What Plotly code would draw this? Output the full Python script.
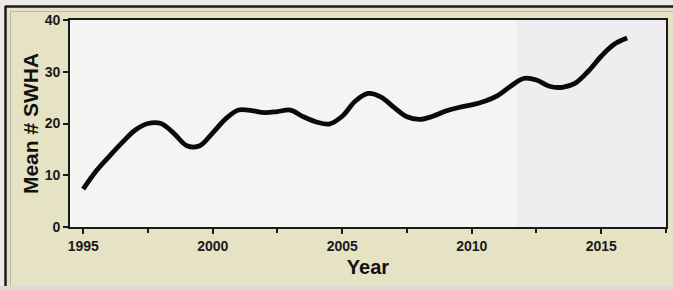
import plotly.graph_objects as go

# Values (half-year positions along the smoothed curve)
years = [1995.0, 1995.5, 1996.0, 1996.5, 1997.0, 1997.5, 1998.0, 1998.5, 1999.0, 1999.5,
         2000.0, 2000.5, 2001.0, 2001.5, 2002.0, 2002.5, 2003.0, 2003.5, 2004.0, 2004.5,
         2005.0, 2005.5, 2006.0, 2006.5, 2007.0, 2007.5, 2008.0, 2008.5, 2009.0, 2009.5,
         2010.0, 2010.5, 2011.0, 2011.5, 2012.0, 2012.5, 2013.0, 2013.5, 2014.0, 2014.5,
         2015.0, 2015.5, 2016.0]
mean_swha = [7.3, 10.8, 13.6, 16.3, 18.7, 20.0, 20.0, 18.1, 15.7, 15.7,
             18.2, 20.9, 22.6, 22.5, 22.1, 22.3, 22.6, 21.3, 20.3, 19.9,
             21.4, 24.3, 25.8, 25.1, 23.1, 21.3, 20.8, 21.4, 22.4, 23.1,
             23.6, 24.3, 25.4, 27.2, 28.7, 28.4, 27.2, 27.0, 27.8, 30.1,
             33.0, 35.3, 36.5]
x_ticks = [1995, 2000, 2005, 2010, 2015]
y_ticks = [0, 10, 20, 30, 40]

W, H = 673, 290
L, R, T, B = 70, 666, 20, 227  # plot area pixel box

def px(x):
    return (x - L) / (R - L)

def py(y):
    return (B - y) / (B - T)

fig = go.Figure()
fig.add_trace(go.Scatter(
    x=years, y=mean_swha, mode="lines",
    line=dict(color="#0a0a0a", width=4.8, shape="spline", smoothing=1.0),
    showlegend=False, hoverinfo="skip",
))

font_fam = "Arial, 'Liberation Sans', sans-serif"

shapes = [
    # slightly bluish right part of the plot area
    dict(type="rect", xref="paper", yref="paper", x0=px(517), x1=1, y0=0, y1=1,
         fillcolor="#eeeef0", line_width=0, layer="below"),
    # light strips at the very edges
    dict(type="rect", xref="paper", yref="paper", x0=px(0), x1=px(W), y0=py(0), y1=py(5),
         fillcolor="#ecebe8", line_width=0, layer="below"),
    dict(type="rect", xref="paper", yref="paper", x0=px(0), x1=px(4.5), y0=py(H), y1=py(0),
         fillcolor="#ecebe8", line_width=0, layer="below"),
    dict(type="rect", xref="paper", yref="paper", x0=px(0), x1=px(W), y0=py(H), y1=py(286),
         fillcolor="#dcdcd6", line_width=0, layer="below"),
    # dark outer frame
    dict(type="line", xref="paper", yref="paper", x0=px(5), x1=px(W), y0=py(6.5), y1=py(6.5),
         line=dict(color="#1c1c1c", width=2.5)),
    dict(type="line", xref="paper", yref="paper", x0=px(5.5), x1=px(5.5), y0=py(6), y1=py(286),
         line=dict(color="#1c1c1c", width=2.5)),
    # faint inner frame
    dict(type="line", xref="paper", yref="paper", x0=px(10), x1=px(W), y0=py(11.5), y1=py(11.5),
         line=dict(color="#b8b6a4", width=1)),
    dict(type="line", xref="paper", yref="paper", x0=px(10.5), x1=px(10.5), y0=py(11), y1=py(286),
         line=dict(color="#b8b6a4", width=1)),
]

fig.update_layout(
    width=W, height=H,
    margin=dict(l=L, r=W - R, t=T, b=H - B, pad=0),
    paper_bgcolor="#e6e2c4",
    plot_bgcolor="#f4f4f2",
    shapes=shapes,
    font=dict(family=font_fam, color="#1a1a1a"),
    xaxis=dict(
        automargin=False,
        range=[1994.49, 2017.5], tickmode="array", tickvals=x_ticks,
        ticktext=[str(v) for v in x_ticks],
        ticks="outside", ticklen=5, tickwidth=1.5, tickcolor="#1a1a1a",
        minor=dict(tickmode="linear", tick0=1995, dtick=2.5, ticks="outside",
                   ticklen=4, tickwidth=1.5, tickcolor="#1a1a1a"),
        showline=True, linecolor="#1a1a1a", linewidth=1.8, mirror=True,
        showgrid=False, zeroline=False,
        tickfont=dict(size=14, family=font_fam, color="#1a1a1a", weight="bold"),
        title=dict(text="<b>Year</b>", font=dict(size=20, family=font_fam, color="#111"),
                   standoff=7),
    ),
    yaxis=dict(
        automargin=False,
        range=[0, 40], tickmode="array", tickvals=y_ticks,
        ticktext=[str(v) for v in y_ticks],
        ticks="outside", ticklen=5, tickwidth=1.5, tickcolor="#1a1a1a",
        showline=True, linecolor="#1a1a1a", linewidth=1.8, mirror=True,
        showgrid=False, zeroline=False,
        tickfont=dict(size=14, family=font_fam, color="#1a1a1a", weight="bold"),
        title=dict(text="<b>Mean # SWHA</b>", font=dict(size=21, family=font_fam, color="#111"),
                   standoff=0),
    ),
)

fig.write_html("out.html",
               config={"displayModeBar": False},
               post_script="document.body.style.margin='0px';document.body.style.overflow='hidden';")
